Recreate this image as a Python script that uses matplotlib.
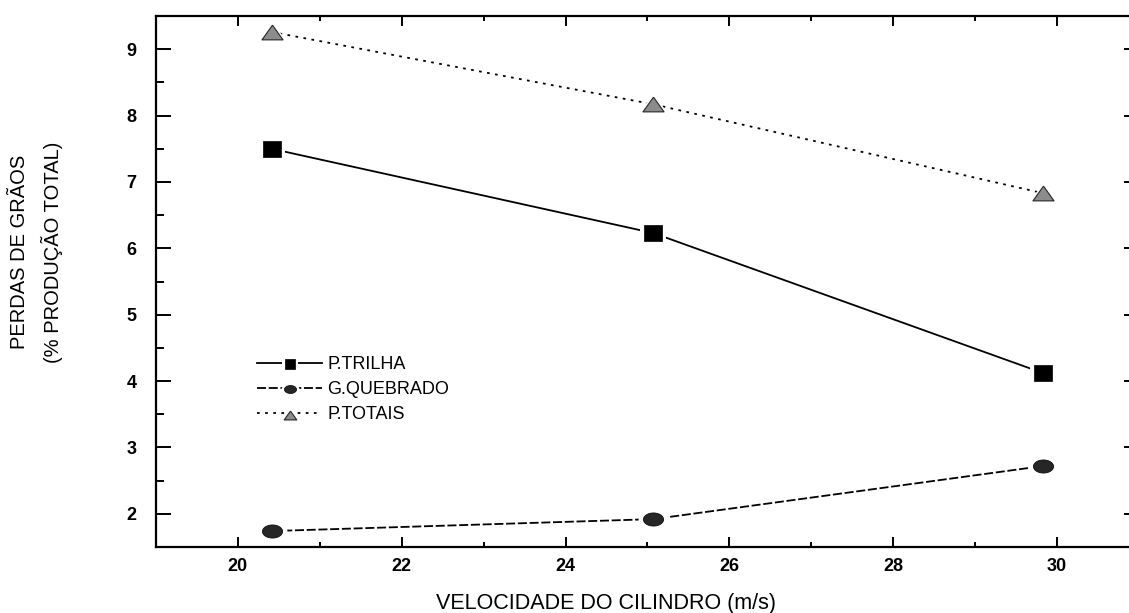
import matplotlib.pyplot as plt
import numpy as np
from matplotlib.path import Path
from matplotlib.legend_handler import HandlerTuple
from matplotlib.ticker import MultipleLocator

plt.rcParams['font.family'] = ['Liberation Sans', 'DejaVu Sans']

# velocidade periferica do cilindro (m/s)
velocidade = [20.41, 25.07, 29.83]

# perdas em % da producao total
p_trilha = [7.50, 6.23, 4.12]
g_quebrado = [1.74, 1.92, 2.72]
p_totais = [9.26, 8.17, 6.83]

labels = ['P.TRILHA', 'G.QUEBRADO', 'P.TOTAIS']

# marcadores um pouco achatados (como no grafico original do Origin)
ellipse = Path(np.column_stack([np.cos(np.linspace(0, 2 * np.pi, 60)),
                                0.65 * np.sin(np.linspace(0, 2 * np.pi, 60))]))
triangle = Path([(0, 0.7), (-1, -0.7), (1, -0.7), (0, 0.7)])
square = Path([(-1, -0.9), (1, -0.9), (1, 0.9), (-1, 0.9), (-1, -0.9)])

fig = plt.figure(figsize=(11.29, 6.13), dpi=100)
ax = fig.add_axes([156 / 1129, 1 - 547 / 613, (1139 - 156) / 1129, (547 - 16) / 613])

series = [
    (p_trilha, '-', square, 150, dict(facecolor='black', edgecolor='black', linewidths=0.5)),
    (g_quebrado, (0, (5, 1.5)), ellipse, 210, dict(facecolor='0.15', edgecolor='0.05', linewidths=0.6)),
    (p_totais, (0, (1.5, 3)), triangle, 230, dict(facecolor='0.55', edgecolor='0.15', linewidths=0.8)),
]

handles = []
for values, ls, marker, size, style in series:
    line, = ax.plot(velocidade, values, color='black', linestyle=ls, linewidth=1.3, zorder=2)
    gap = ax.scatter(velocidade, values, marker=marker, s=size * 2.2, color='white',
                     linewidths=0, zorder=3)
    pts = ax.scatter(velocidade, values, marker=marker, s=size, zorder=4, **style)
    handles.append((line, gap, pts))

ax.set_xlim(19, 31)
ax.set_ylim(1.5, 9.5)
ax.xaxis.set_major_locator(MultipleLocator(2))
ax.xaxis.set_minor_locator(MultipleLocator(1))
ax.yaxis.set_major_locator(MultipleLocator(1))
ax.yaxis.set_minor_locator(MultipleLocator(0.5))

ax.tick_params(which='both', direction='in', top=True, right=True, width=1.4, labelsize=13)
ax.tick_params(axis='x', which='major', length=7, pad=8)
ax.tick_params(axis='x', which='minor', length=3.5)
ax.tick_params(axis='y', which='major', length=11, pad=14)
ax.tick_params(axis='y', which='minor', length=5.5)
for lab in ax.get_xticklabels() + ax.get_yticklabels():
    lab.set_fontweight('bold')
for s in ax.spines.values():
    s.set_linewidth(1.6)

fig.text(606 / 1129, 1 - 604 / 613, 'VELOCIDADE DO CILINDRO (m/s)', ha='center', va='center', fontsize=15.5)
fig.text(20 / 1129, 1 - 252 / 613, 'PERDAS DE GRÃOS', rotation=90, ha='center', va='center', fontsize=14.5)
fig.text(52 / 1129, 1 - 252 / 613, '(% PRODUÇÃO TOTAL)', rotation=90, ha='center', va='center', fontsize=14.5)

leg = ax.legend(handles, labels, handler_map={tuple: HandlerTuple(ndivide=1)},
                loc='upper left', bbox_to_anchor=(257 / 1129, 1 - 356 / 613),
                bbox_transform=fig.transFigure, frameon=False, fontsize=13,
                handlelength=3.6, handletextpad=0.3, labelspacing=0.45,
                markerscale=0.6, scatterpoints=1, borderaxespad=0, borderpad=0)

fig.savefig('out.png', dpi=100)
plt.close(fig)
